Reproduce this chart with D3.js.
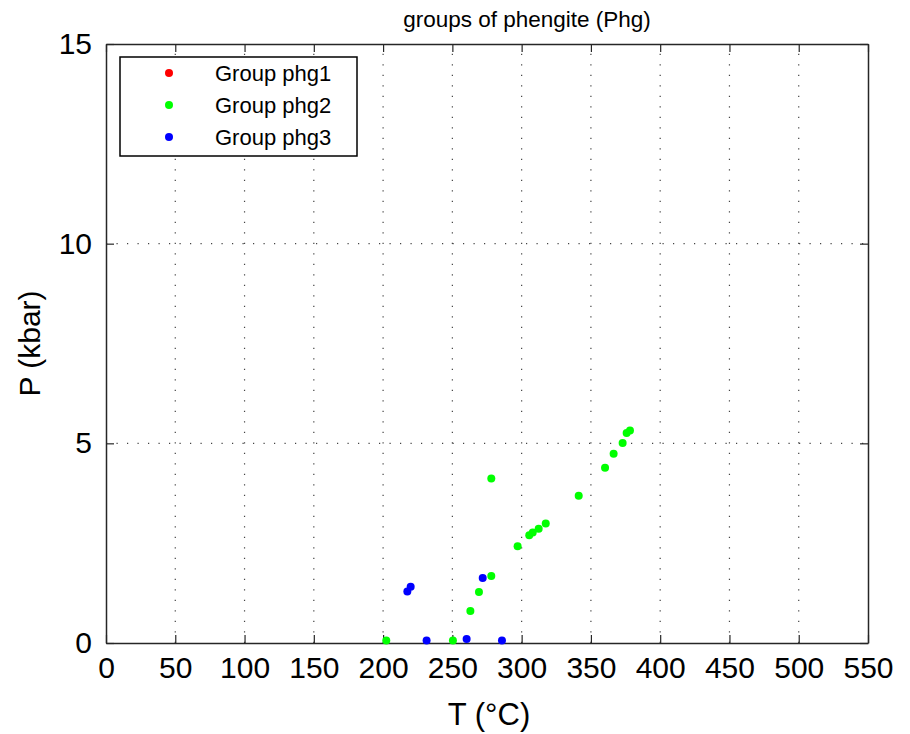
<!DOCTYPE html>
<html>
<head>
<meta charset="utf-8">
<script src="https://cdn.jsdelivr.net/npm/d3@7"></script>
<style>
  html, body { margin: 0; padding: 0; background: #fff; }
  svg { display: block; font-family: "Liberation Sans", Arial, sans-serif; }
</style>
</head>
<body>
<svg id="chart" width="910" height="734"></svg>
<script>
// Temperature (°C) and pressure (kbar) estimates for each phengite group
const groupNames = ["Group phg1", "Group phg2", "Group phg3"];
const groupColors = ["#ff0000", "#00ff00", "#0000ff"];

const phg1T = [];
const phg1P = [];

const phg2T = [202.3, 250.4, 263.0, 269.2, 278.1, 278.1, 297.1, 305.5, 308.0, 312.3, 317.4, 341.2, 360.2, 366.4, 372.9, 375.8, 378.2];
const phg2P = [0.06, 0.06, 0.80, 1.28, 1.68, 4.12, 2.42, 2.70, 2.77, 2.86, 2.99, 3.69, 4.39, 4.74, 5.01, 5.26, 5.32];

const phg3T = [217.5, 219.9, 231.4, 260.3, 271.9, 285.8];
const phg3P = [1.29, 1.41, 0.06, 0.10, 1.63, 0.06];

const xTicks = [0, 50, 100, 150, 200, 250, 300, 350, 400, 450, 500, 550];
const yTicks = [0, 5, 10, 15];

const groups = [
  { name: groupNames[0], color: groupColors[0], T: phg1T, P: phg1P },
  { name: groupNames[1], color: groupColors[1], T: phg2T, P: phg2P },
  { name: groupNames[2], color: groupColors[2], T: phg3T, P: phg3P }
];

const svg = d3.select("#chart");
const plotL = 106, plotR = 868, plotT = 44, plotB = 643;

const x = d3.scaleLinear().domain([0, 550]).range([plotL, plotR]);
const y = d3.scaleLinear().domain([0, 15]).range([plotB, plotT]);

const axisColor = "#262626";

// dotted grid
const grid = svg.append("g");
grid.selectAll("line.gx").data(xTicks.slice(1, -1)).join("line")
  .attr("x1", d => x(d)).attr("x2", d => x(d))
  .attr("y1", plotB).attr("y2", plotT)
  .attr("stroke", "#444").attr("stroke-width", 1.2)
  .attr("stroke-dasharray", "1.2,9.3");
grid.selectAll("line.gy").data(yTicks.slice(1, -1)).join("line")
  .attr("x1", plotL).attr("x2", plotR)
  .attr("y1", d => y(d)).attr("y2", d => y(d))
  .attr("stroke", "#444").attr("stroke-width", 1.2)
  .attr("stroke-dasharray", "1.2,9.3");

// axes with inward ticks, boxed on all four sides
const tickLen = 8;
const fmt = d3.format("d");
const axB = svg.append("g").attr("transform", `translate(0,${plotB})`)
  .call(d3.axisBottom(x).tickValues(xTicks).tickFormat(fmt).tickSizeInner(-tickLen).tickSizeOuter(0).tickPadding(14));
const axT = svg.append("g").attr("transform", `translate(0,${plotT})`)
  .call(d3.axisTop(x).tickValues(xTicks).tickFormat("").tickSizeInner(-tickLen).tickSizeOuter(0));
const axL = svg.append("g").attr("transform", `translate(${plotL},0)`)
  .call(d3.axisLeft(y).tickValues(yTicks).tickFormat(fmt).tickSizeInner(-tickLen).tickSizeOuter(0).tickPadding(14));
const axR = svg.append("g").attr("transform", `translate(${plotR},0)`)
  .call(d3.axisRight(y).tickValues(yTicks).tickFormat("").tickSizeInner(-tickLen).tickSizeOuter(0));

[axB, axT, axL, axR].forEach(a => {
  a.select(".domain").attr("stroke", axisColor).attr("stroke-width", 1.5);
  a.selectAll(".tick line").attr("stroke", axisColor).attr("stroke-width", 1.2);
  a.selectAll(".tick text").attr("fill", "#000").attr("font-size", 30)
    .attr("font-family", "'Liberation Sans', Arial, sans-serif");
});
axB.selectAll(".tick text").attr("dy", "0.71em");

// points
groups.forEach(g => {
  svg.append("g").selectAll("circle").data(d3.range(g.T.length)).join("circle")
    .attr("cx", i => x(g.T[i])).attr("cy", i => y(g.P[i]))
    .attr("r", 4).attr("fill", g.color);
});

// legend
const lg = svg.append("g");
lg.append("rect").attr("x", 120).attr("y", 57).attr("width", 237).attr("height", 99)
  .attr("fill", "#fff").attr("stroke", "#000").attr("stroke-width", 1.5);
groups.forEach((g, i) => {
  const cy = 73 + i * 32;
  lg.append("circle").attr("cx", 169).attr("cy", cy).attr("r", 4).attr("fill", g.color);
  lg.append("text").attr("x", 215).attr("y", cy).attr("dy", "0.36em")
    .attr("font-size", 22).attr("fill", "#000").text(g.name);
});

// title and axis labels
svg.append("text").attr("x", 527).attr("y", 27)
  .attr("text-anchor", "middle").attr("font-size", 22.5).attr("fill", "#000")
  .text("groups of phengite (Phg)");
svg.append("text").attr("x", 489).attr("y", 725)
  .attr("text-anchor", "middle").attr("font-size", 31).attr("fill", "#000")
  .text("T (°C)");
svg.append("text").attr("transform", `translate(40,${(plotT + plotB) / 2}) rotate(-90)`)
  .attr("text-anchor", "middle").attr("font-size", 30).attr("fill", "#000")
  .text("P (kbar)");
</script>
</body>
</html>
